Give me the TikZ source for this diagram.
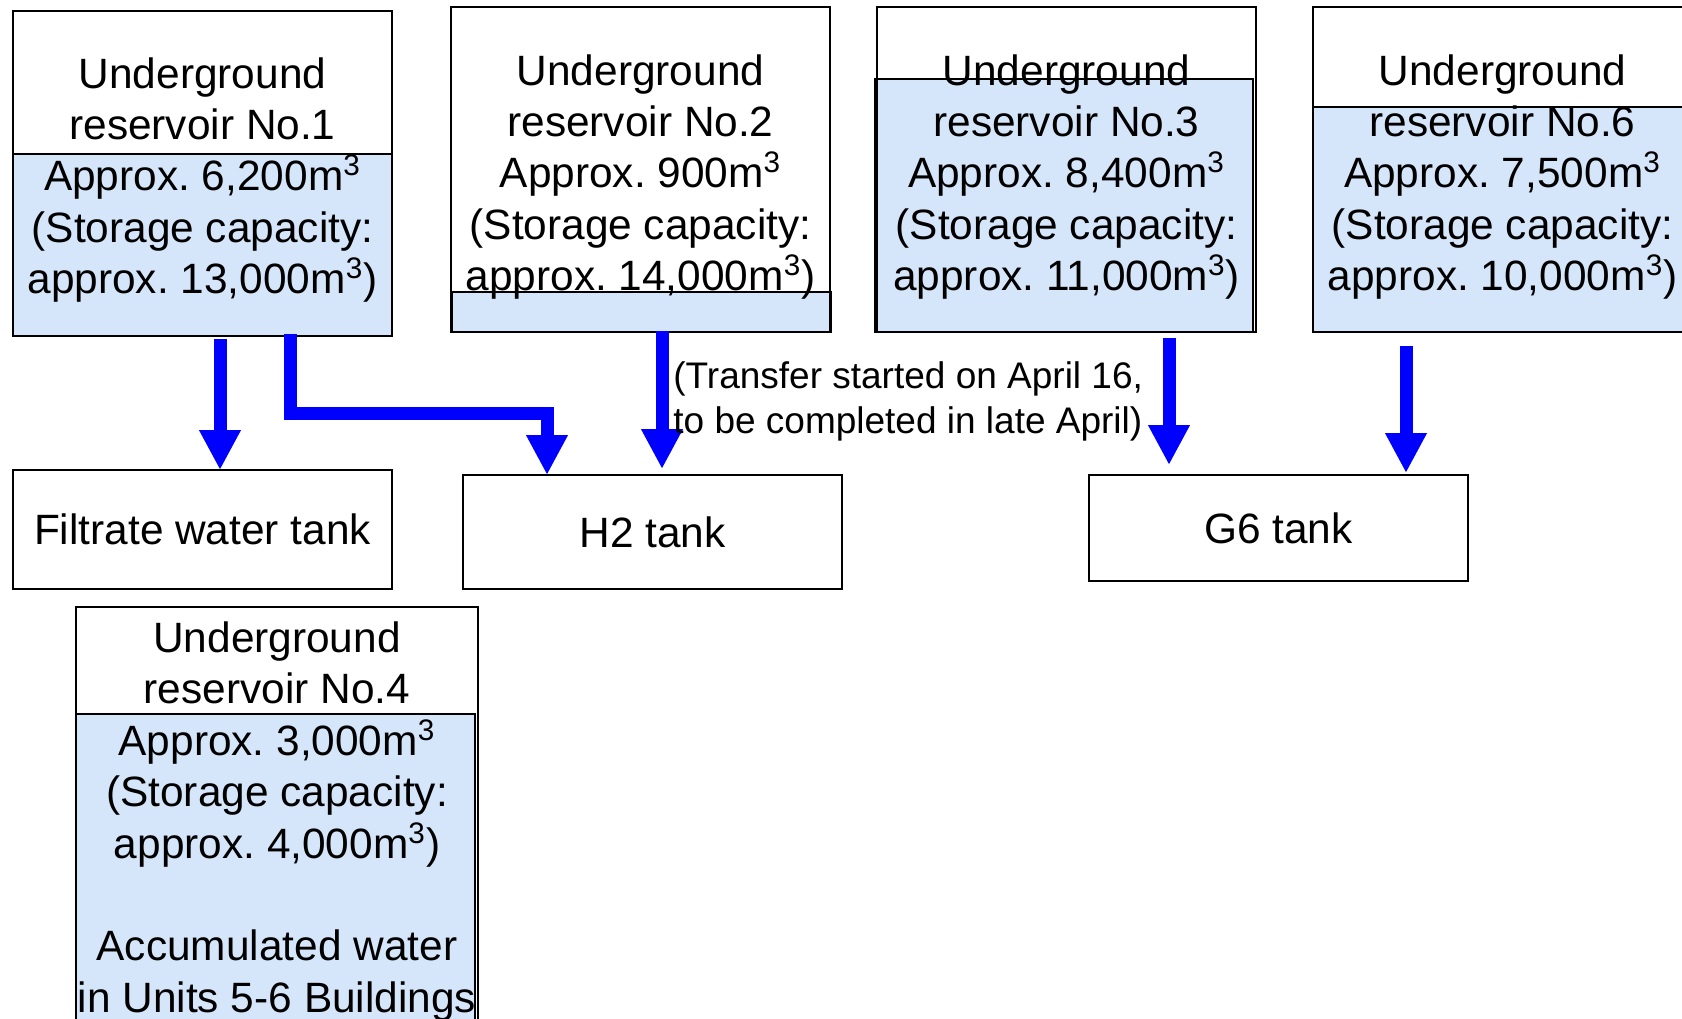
\documentclass[tikz,border=0pt]{standalone}
\usepackage{fontspec}
\setmainfont{Liberation Sans}
\usetikzlibrary{arrows.meta,calc}
\pgfdeclarelayer{bg}
\pgfsetlayers{bg,main}
\definecolor{water}{RGB}{214,230,250}
\definecolor{flowblue}{RGB}{0,0,255}
\frenchspacing

\begin{document}
\begin{tikzpicture}[x=0.5pt,y=-0.5pt,
  box/.style={draw=black,line width=0.9pt,inner sep=0pt,outer sep=0pt,
    anchor=north west,align=center,font=\fontsize{21.2pt}{25.7pt}\selectfont},
  res/.style={box,minimum width=189.5pt,minimum height=162.5pt},
  tank/.style={box,minimum width=189.5pt},
  restext/.style={inner sep=0pt,align=center,font=\fontsize{21.2pt}{25.7pt}\selectfont},
  water/.style={fill=water,draw=black,line width=1pt},
  flow/.style={draw=flowblue,line width=6.5pt,line join=miter,
    -{Triangle[width=19.5pt,length=20pt]}},
  note/.style={anchor=west,align=left,inner sep=0pt,
    font=\fontsize{18.5pt}{22.5pt}\selectfont}]

\begin{pgfonlayer}{bg}
  \fill[white] (0,0) rectangle (1682,1018);
\end{pgfonlayer}
\useasboundingbox (0,0) rectangle (1682,1018);

% reservoir frames
\node[res] (r1) at (13,11) {};
\node[res] (r2) at (451,7) {};
\node[res] (r3) at (877,7) {};
\node[res] (r6) at (1313,7) {};
\node[res,minimum width=201pt,minimum height=211.5pt] (r4) at (76,607) {};

% reservoir labels
\node[restext] (r1t) at ($(r1.center)+(0,6.5)$)
  {Underground\\reservoir No.1\\Approx. 6,200m\textsuperscript{3}\\(Storage capacity:\\approx. 13,000m\textsuperscript{3})};
\node[restext] (r2t) at ($(r2.center)+(0,7.5)$)
  {Underground\\reservoir No.2\\Approx. 900m\textsuperscript{3}\\(Storage capacity:\\approx. 14,000m\textsuperscript{3})};
\node[restext] (r3t) at ($(r3.center)+(0,7.5)$)
  {Underground\\reservoir No.3\\Approx. 8,400m\textsuperscript{3}\\(Storage capacity:\\approx. 11,000m\textsuperscript{3})};
\node[restext] (r6t) at ($(r6.center)+(0,7.5)$)
  {Underground\\reservoir No.6\\Approx. 7,500m\textsuperscript{3}\\(Storage capacity:\\approx. 10,000m\textsuperscript{3})};
\node[restext] (r4t) at ($(r4.center)+(0,3)$)
  {Underground\\reservoir No.4\\Approx. 3,000m\textsuperscript{3}\\(Storage capacity:\\approx. 4,000m\textsuperscript{3})\\~\\Accumulated water\\in Units 5-6 Buildings};

% tanks
\node[tank,minimum height=59.5pt] (filt) at (13,470) {Filtrate water tank};
\node[tank,minimum height=57pt] (h2) at (463,475) {H2 tank};
\node[tank,minimum height=53pt] (g6) at (1089,475) {G6 tank};

% water levels
\begin{pgfonlayer}{bg}
  \draw[water] ($(r1.north west)+(0,143)$) rectangle (r1.south east);
  \draw[water] ($(r2.south west)+(1,-40)$) rectangle ($(r2.south east)+(1,0)$);
  \draw[water] ($(r3.north west)+(-2,72)$) rectangle ($(r3.south east)+(-3,0)$);
  \draw[water] ($(r6.north west)+(0,100)$) rectangle (r6.south east);
  \draw[water] ($(r4.north west)+(0,107)$) rectangle ($(r4.south east)+(-3,0)$);
\end{pgfonlayer}

% transfers
\draw[flow] ($(r1.south west)+(207,3)$) coordinate (a1) -- (a1 |- filt.north);
\draw[flow] ($(r1.south west)+(277,-2)$) |- ($(h2.north west)+(84,-62)$) -- ($(h2.north west)+(84,0)$);
\draw[flow] ($(r2.south west)+(211,-1)$) -- ($(h2.north west)+(199,-6)$);
\draw[flow] ($(r3.south west)+(292,6)$) -- ($(g6.north west)+(80,-10)$);
\draw[flow] ($(r6.south west)+(93,14)$) -- ($(g6.north west)+(317,-2)$);

\node[note] (note) at (673,401)
  {(Transfer started on April 16,\\to be completed in late April)};
\end{tikzpicture}
\end{document}
